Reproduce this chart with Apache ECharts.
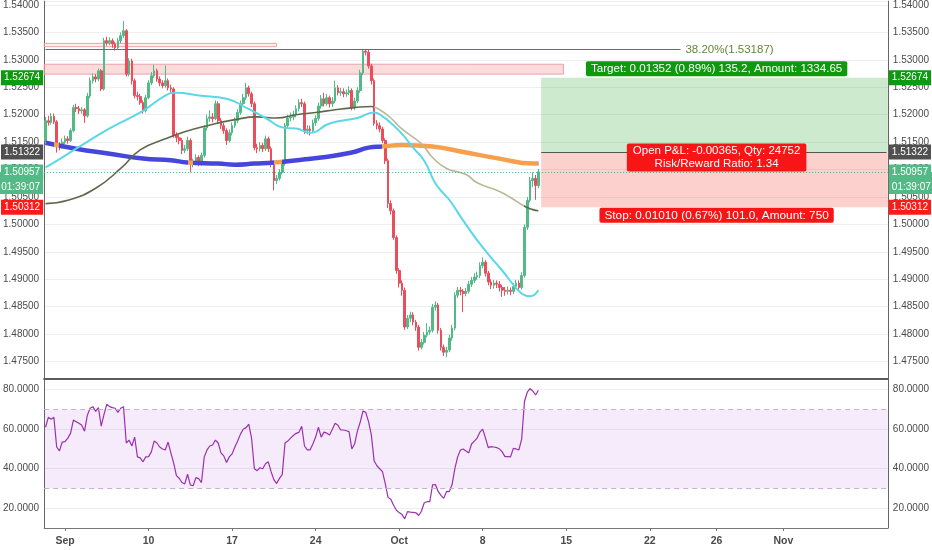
<!DOCTYPE html>
<html><head><meta charset="utf-8">
<script src="https://cdn.jsdelivr.net/npm/echarts@6/dist/echarts.min.js"></script>
<style>html,body{margin:0;padding:0;background:#fff}#c{width:932px;height:550px}</style>
</head><body><div id="c"></div>
<script>
// ---------- DATA (4H candles, one per slot) ----------
const firstOpen = 1.5153;
const closes = [
1.5189,1.5186,1.5197,1.5187,1.5144,1.5141,1.5150,1.5156,1.5153,1.5171,
1.5213,1.5211,1.5207,1.5209,1.5198,1.5234,1.5262,1.5269,1.5265,1.5280,
1.5247,1.5335,1.5331,1.5335,1.5329,1.5322,1.5335,1.5344,1.5353,1.5274,
1.5298,1.5262,1.5235,1.5233,1.5222,1.5207,1.5231,1.5258,1.5271,1.5280,
1.5265,1.5258,1.5253,1.5262,1.5249,1.5247,1.5162,1.5158,1.5153,1.5135,
1.5138,1.5153,1.5111,1.5113,1.5122,1.5111,1.5126,1.5176,1.5193,1.5196,
1.5193,1.5220,1.5189,1.5180,1.5171,1.5153,1.5167,1.5180,1.5189,1.5204,
1.5220,1.5231,1.5249,1.5238,1.5220,1.5140,1.5138,1.5144,1.5138,1.5156,
1.5138,1.5111,1.5080,1.5084,1.5095,1.5111,1.5180,1.5194,1.5196,1.5200,
1.5211,1.5222,1.5220,1.5171,1.5174,1.5171,1.5185,1.5193,1.5216,1.5229,
1.5220,1.5231,1.5220,1.5225,1.5249,1.5240,1.5242,1.5238,1.5240,1.5244,
1.5213,1.5225,1.5244,1.5276,1.5316,1.5314,1.5289,1.5262,1.5184,1.5180,
1.5174,1.5153,1.5116,1.5038,1.5025,1.4976,1.4916,1.4893,1.4880,1.4813,
1.4829,1.4835,1.4822,1.4813,1.4776,1.4785,1.4798,1.4804,1.4807,1.4849,
1.4853,1.4807,1.4776,1.4767,1.4771,1.4793,1.4811,1.4871,1.4880,1.4878,
1.4874,1.4878,1.4891,1.4898,1.4904,1.4907,1.4925,1.4931,1.4911,1.4895,
1.4889,1.4893,1.4891,1.4885,1.4880,1.4878,1.4880,1.4878,1.4887,1.4893,
1.4885,1.4907,1.4995,1.5044,1.5080,1.5084,1.5071,1.50957];
const highs = [
1.5196,1.5198,1.5203,1.5202,1.5190,1.5150,1.5157,1.5162,1.5161,1.5175,
1.5218,1.5220,1.5216,1.5214,1.5212,1.5240,1.5268,1.5275,1.5274,1.5284,
1.5283,1.5340,1.5342,1.5341,1.5339,1.5333,1.5340,1.5350,1.5371,1.5356,
1.5303,1.5302,1.5266,1.5242,1.5238,1.5226,1.5236,1.5263,1.5278,1.5291,
1.5284,1.5270,1.5263,1.5290,1.5266,1.5255,1.5250,1.5168,1.5164,1.5157,
1.5145,1.5160,1.5157,1.5120,1.5128,1.5126,1.5131,1.5181,1.5200,1.5208,
1.5203,1.5226,1.5224,1.5194,1.5185,1.5175,1.5173,1.5186,1.5195,1.5210,
1.5226,1.5238,1.5258,1.5253,1.5242,1.5224,1.5147,1.5150,1.5149,1.5162,
1.5160,1.5142,1.5115,1.5090,1.5101,1.5117,1.5185,1.5200,1.5204,1.5207,
1.5217,1.5228,1.5229,1.5224,1.5181,1.5180,1.5191,1.5199,1.5222,1.5236,
1.5240,1.5238,1.5235,1.5232,1.5262,1.5254,1.5249,1.5248,1.5246,1.5252,
1.5248,1.5231,1.5250,1.5282,1.5320,1.5320,1.5318,1.5293,1.5266,1.5190,
1.5186,1.5178,1.5157,1.5120,1.5044,1.5029,1.4980,1.4920,1.4898,1.4885,
1.4835,1.4841,1.4840,1.4826,1.4817,1.4791,1.4804,1.4820,1.4814,1.4855,
1.4860,1.4857,1.4811,1.4781,1.4777,1.4799,1.4817,1.4876,1.4886,1.4886,
1.4882,1.4884,1.4897,1.4904,1.4911,1.4914,1.4931,1.4940,1.4935,1.4915,
1.4900,1.4899,1.4898,1.4897,1.4890,1.4886,1.4887,1.4885,1.4893,1.4899,
1.4898,1.4913,1.5000,1.5050,1.5087,1.5095,1.5090,1.5101];
const lows = [
1.5150,1.5180,1.5182,1.5183,1.5131,1.5135,1.5138,1.5146,1.5147,1.5150,
1.5168,1.5205,1.5201,1.5202,1.5185,1.5195,1.5230,1.5257,1.5259,1.5261,
1.5243,1.5244,1.5326,1.5327,1.5322,1.5317,1.5318,1.5330,1.5340,1.5270,
1.5270,1.5255,1.5230,1.5226,1.5218,1.5202,1.5204,1.5228,1.5254,1.5267,
1.5260,1.5252,1.5248,1.5249,1.5244,1.5240,1.5158,1.5150,1.5146,1.5128,
1.5130,1.5134,1.5095,1.5104,1.5108,1.5106,1.5107,1.5122,1.5171,1.5187,
1.5186,1.5190,1.5184,1.5174,1.5165,1.5145,1.5149,1.5162,1.5176,1.5185,
1.5200,1.5216,1.5227,1.5233,1.5214,1.5135,1.5130,1.5133,1.5132,1.5134,
1.5132,1.5104,1.5062,1.5074,1.5080,1.5091,1.5107,1.5175,1.5188,1.5190,
1.5195,1.5206,1.5214,1.5165,1.5164,1.5162,1.5167,1.5180,1.5189,1.5211,
1.5215,1.5216,1.5213,1.5214,1.5221,1.5235,1.5234,1.5232,1.5233,1.5236,
1.5208,1.5209,1.5221,1.5240,1.5272,1.5308,1.5284,1.5255,1.5180,1.5173,
1.5168,1.5148,1.5110,1.5030,1.5018,1.4972,1.4910,1.4885,1.4870,1.4808,
1.4809,1.4822,1.4816,1.4806,1.4770,1.4772,1.4781,1.4794,1.4799,1.4803,
1.4843,1.4801,1.4770,1.4760,1.4758,1.4767,1.4788,1.4807,1.4866,1.4871,
1.4840,1.4869,1.4874,1.4886,1.4893,1.4899,1.4902,1.4920,1.4905,1.4889,
1.4882,1.4883,1.4884,1.4878,1.4868,1.4870,1.4872,1.4871,1.4873,1.4882,
1.4880,1.4881,1.4903,1.4990,1.5040,1.5068,1.5045,1.5066];
const rsiValues = [
61,66,65,66,51,49,53.5,53.7,55.5,58,
64.6,63.8,63,62,59,67,70.6,71.4,69,70.9,
61.5,67.5,72.6,71.4,70.9,70.6,68.5,70.6,71.4,53,
54.5,51.5,56,46,45.5,43.5,46,46.1,48.5,54,
53,51,50,49.5,53.5,48,43,36.5,35.2,33,
32.3,37.2,31.8,31.4,35.5,35,33,46,49.5,51.5,
52,54.5,53,48,46.5,43.2,46,47.5,51,54,
57.5,60,60.8,62.5,55.4,40,39,40.5,40,42.5,
43.5,38.5,34.5,32.5,35.1,37,53,54,55.5,56.8,
57.9,58.4,61.5,51.5,49.5,49.5,52.5,56,61,56,
58.5,58,57.1,60,63,62,59.6,59.6,59.2,58.8,
50,52.5,59,63.5,69.2,68.5,63.8,57.1,44,41.5,
40,38.5,32.5,25.5,24.5,21.5,19,17.8,16.8,14.6,
18.3,18,17.9,17.7,16.3,18.5,22.8,23.3,23.3,31.8,
32,28.5,26.5,25,28.5,28.4,32,40,46,49.5,
50,49,48,52.5,54,55.5,58.5,60,55.5,50.7,
51.2,51,50.7,50,48.5,46.1,46.1,46,50.3,50,
49.5,55,74,78.7,80.5,79.3,77.3,79.7];
// moving averages as [slot, value] readings
const ma50 = [[0,1.5104],[4,1.5116],[11,1.5138],[23,1.5175],[35,1.5207],[43,1.5235],[47,1.5240],[55,1.5235],[65,1.5229],[72,1.5213],[79,1.5194],[86,1.5176],[90,1.5175],[95,1.5167],[102,1.5184],[112,1.5194],[118,1.5204],[121,1.5197],[124,1.5185],[128,1.5165],[132,1.5140],[136,1.5116],[140,1.5075],[143,1.5056],[145,1.5045],[150,1.5007],[157,1.4958],[164,1.4916],[169,1.4884],[172,1.4871],[174,1.4869],[177,1.4880]];
const ma100 = [[0,1.5038],[8,1.5044],[18,1.5066],[27,1.5102],[34,1.5136],[43,1.5156],[50,1.5169],[58,1.5180],[68,1.5191],[76,1.5196],[83,1.5194],[90,1.5200],[97,1.5204],[104,1.5209],[111,1.5213],[117,1.5215],[120,1.5209],[124,1.5194],[128,1.5174],[135,1.5147],[139,1.5122],[144,1.5102],[151,1.5091],[155,1.5076],[163,1.5060],[167,1.5049],[172,1.5033],[175,1.5027],[177,1.5025]];
const ma200 = [[0,1.5149],[11,1.5138],[23,1.5129],[35,1.5120],[45,1.5117],[51,1.5113],[62,1.5111],[68,1.5109],[75,1.5111],[82,1.5113],[92,1.5118],[99,1.5122],[110,1.5131],[116,1.5140],[121,1.5142],[128,1.5145],[139,1.5142],[151,1.5131],[163,1.5120],[175,1.5111],[177,1.5111]];
const ma200BelowRanges = [[3,5],[51,53],[82,85],[121,177]];
const ma100BelowRanges = [[118,172]];
// x axis
const slotCount = 303;
const xTickSlots = [7,37,67,97,127,157,187,217,241,265];
const xTickLabels = ['Sep','10','17','24','Oct','8','15','22','26','Nov'];
// price scale
const priceMin = 1.47, priceMax = 1.5407, priceStep = 0.005;
const rsiMin = 10, rsiMax = 85.4, rsiStep = 10;
const rsiGridLevels = [20,40,60,80];
const rsiUpper = 70, rsiLower = 30;
// drawings
const zoneThin = [1.5330, 1.5324], zoneThinEnd = 83;
const zoneWide = [1.5292, 1.5274], zoneWideEnd = 186;
const fibLevel = 1.53187, fibEnd = 228, fibText = '38.20%(1.53187)';
const entryPrice = 1.51322, targetPrice = 1.52674, stopPrice = 1.50312, lastPrice = 1.50957;
const positionStart = 178, positionLabelSlot = 241;
const targetText = 'Target: 0.01352 (0.89%) 135.2, Amount: 1334.65';
const pnlText = 'Open P&L: -0.00365, Qty: 24752\nRisk/Reward Ratio: 1.34';
const stopText = 'Stop: 0.01010 (0.67%) 101.0, Amount: 750';
const countdownText = '01:39:07';

// ---------- BUILD ----------
const FONT = 'Liberation Sans, Arial, sans-serif';
const TXT = '#4b4b4b';
const GRIDC = '#eceef2';
const UP = '#53b987', DOWN = '#eb4d5c';
const HIDDEN = 'rgba(0,0,0,0)';
const categories = Array.from({length: slotCount}, () => '');
xTickSlots.forEach((s, k) => { categories[s] = xTickLabels[k]; });
const candles = closes.map((c, i) => [i === 0 ? firstOpen : closes[i - 1], c, lows[i], highs[i]]);

function rangePieces(ranges, inColor, outColor) {
  const pieces = []; let cur = -1;
  ranges.forEach(([a, b]) => {
    if (a > cur) pieces.push({gt: cur, lt: a, color: outColor});
    pieces.push({gte: a, lte: b, color: inColor});
    cur = b;
  });
  pieces.push({gt: cur, lte: slotCount, color: outColor});
  return pieces;
}
function priceLabel(v) {
  if (v < priceMin + priceStep / 2 || v > 1.54001) return '';
  return v.toFixed(5);
}
function rsiLabel(v) {
  const r = Math.round(v);
  return (Math.abs(v - r) < 1e-6 && rsiGridLevels.indexOf(r) >= 0) ? v.toFixed(4) : '';
}
function badge(price, text, bg, side, extra) {
  return {
    yAxis: price,
    lineStyle: {color: HIDDEN, width: 1, type: 'solid'},
    label: Object.assign({
      show: true, position: side === 'left' ? 'start' : 'end', formatter: text,
      backgroundColor: bg, color: '#fff', fontSize: 10, fontFamily: FONT,
      padding: [3, 3, 2, 3], distance: 1
    }, extra || {})
  };
}
const mainSplit = ['transparent'].concat(Array(20).fill(GRIDC));
const rsiSplit = ['transparent', GRIDC, 'transparent', GRIDC, 'transparent', GRIDC, 'transparent', GRIDC, 'transparent', 'transparent'];

const yMain = (pos) => ({
  type: 'value', gridIndex: 0, position: pos, min: priceMin, max: priceMax, interval: priceStep,
  axisLine: {show: true, lineStyle: {color: '#666'}}, axisTick: {show: false},
  axisLabel: {formatter: priceLabel, color: TXT, fontSize: 10, margin: 5, fontFamily: FONT},
  splitLine: {show: pos === 'left', lineStyle: {color: mainSplit}}
});
const yRsi = (pos) => ({
  type: 'value', gridIndex: 1, position: pos, min: rsiMin, max: rsiMax, interval: rsiStep,
  axisLine: {show: true, lineStyle: {color: '#666'}}, axisTick: {show: false},
  axisLabel: {formatter: rsiLabel, color: TXT, fontSize: 10, margin: 5, fontFamily: FONT},
  splitLine: {show: pos === 'left', lineStyle: {color: rsiSplit}}
});

const option = {
  animation: false,
  backgroundColor: '#ffffff',
  textStyle: {fontFamily: FONT},
  grid: [
    {left: 42, right: 42, top: 0, height: 389},
    {left: 42, right: 42, top: 379, height: 149}
  ],
  xAxis: [
    {type: 'category', gridIndex: 0, data: categories, boundaryGap: true, show: false},
    {type: 'category', gridIndex: 1, data: categories, boundaryGap: true, position: 'bottom',
      axisLine: {lineStyle: {color: '#777'}},
      axisTick: {show: true, alignWithLabel: true, interval: (i, v) => v !== '', length: 3, lineStyle: {color: '#777'}},
      axisLabel: {interval: (i, v) => v !== '', color: TXT, fontWeight: 'bold', fontSize: 10.5, margin: 8, fontFamily: FONT},
      splitLine: {show: false}},
    {type: 'category', gridIndex: 1, data: categories, boundaryGap: true, position: 'top',
      axisLine: {lineStyle: {color: '#5c5c5c', width: 2}}, axisTick: {show: false}, axisLabel: {show: false}}
  ],
  yAxis: [yMain('left'), yMain('right'), yRsi('left'), yRsi('right')],
  visualMap: [
    {show: false, type: 'piecewise', seriesIndex: 1, dimension: 0, pieces: rangePieces(ma200BelowRanges, '#f6a04d', '#4646dc')},
    {show: false, type: 'piecewise', seriesIndex: 2, dimension: 0, pieces: rangePieces(ma100BelowRanges, '#b7b995', '#5d6848')}
  ],
  series: [
    {
      type: 'candlestick', name: 'price', xAxisIndex: 0, yAxisIndex: 0, data: candles, barWidth: '78%', clip: false,
      itemStyle: {color: UP, color0: DOWN, borderColor: UP, borderColor0: DOWN, borderWidth: 1},
      markArea: {
        silent: true,
        data: [
          [{yAxis: zoneThin[0], itemStyle: {color: 'rgba(242,120,120,0.12)', borderColor: '#eea2a2', borderWidth: 1}}, {xAxis: zoneThinEnd, yAxis: zoneThin[1]}],
          [{yAxis: zoneWide[0], itemStyle: {color: 'rgba(242,90,100,0.22)', borderColor: '#eea2a8', borderWidth: 1}}, {xAxis: zoneWideEnd, yAxis: zoneWide[1]}],
          [{xAxis: positionStart, yAxis: targetPrice, itemStyle: {color: 'rgba(76,175,80,0.28)'}}, {yAxis: entryPrice}],
          [{xAxis: positionStart, yAxis: entryPrice, itemStyle: {color: 'rgba(244,67,54,0.25)'}}, {yAxis: stopPrice}]
        ]
      },
      markLine: {
        silent: true, symbol: ['none', 'none'], precision: 5,
        data: [
          badge(lastPrice, countdownText, UP, 'left', {verticalAlign: 'top', padding: [10, 3, 2, 3]}),
          badge(lastPrice, countdownText, UP, 'right', {verticalAlign: 'top', padding: [10, 3, 2, 3]}),
          badge(targetPrice, targetPrice.toFixed(5), '#0e990e', 'left'),
          badge(targetPrice, targetPrice.toFixed(5), '#0e990e', 'right'),
          badge(entryPrice, entryPrice.toFixed(5), '#505050', 'left'),
          badge(entryPrice, entryPrice.toFixed(5), '#505050', 'right'),
          badge(lastPrice, lastPrice.toFixed(5), UP, 'left'),
          badge(lastPrice, lastPrice.toFixed(5), UP, 'right'),
          badge(stopPrice, stopPrice.toFixed(5), '#ff1a1a', 'left'),
          badge(stopPrice, stopPrice.toFixed(5), '#ff1a1a', 'right')
        ]
      },
      markPoint: {
        silent: true, symbol: 'circle', symbolSize: 1, itemStyle: {color: 'rgba(0,0,0,0)'},
        data: [
          {coord: [positionLabelSlot, targetPrice], label: {show: true, position: 'top', distance: 1, formatter: targetText,
            backgroundColor: '#0e990e', color: '#fff', fontSize: 11.6, padding: [2, 5, 1, 5], borderRadius: 2, fontFamily: FONT}},
          {coord: [positionLabelSlot, entryPrice], label: {show: true, position: 'inside', offset: [0, 5.5], formatter: pnlText,
            backgroundColor: '#f71515', color: '#fff', fontSize: 11.5, lineHeight: 13, padding: [1, 6, 1, 6], borderRadius: 2, align: 'center', fontFamily: FONT}},
          {coord: [positionLabelSlot, stopPrice], label: {show: true, position: 'bottom', distance: 0, formatter: stopText,
            backgroundColor: '#f71515', color: '#fff', fontSize: 11.8, padding: [2, 5, 1, 5], borderRadius: 2, fontFamily: FONT}}
        ]
      }
    },
    {type: 'line', name: 'MA200', xAxisIndex: 0, yAxisIndex: 0, data: ma200, smooth: true, symbol: 'none', lineStyle: {width: 4.5},
      markLine: {silent: true, symbol: ['none', 'none'], label: {show: false}, precision: 5,
        lineStyle: {color: '#45b08c', width: 1, type: [1, 2]},
        data: [{yAxis: lastPrice}]}},
    {type: 'line', name: 'MA100', xAxisIndex: 0, yAxisIndex: 0, data: ma100, smooth: true, symbol: 'none', lineStyle: {width: 1.6},
      markLine: {silent: true, symbol: ['none', 'none'], label: {show: false}, precision: 5,
        lineStyle: {color: '#555555', width: 1, type: 'solid'},
        data: [[{xAxis: positionStart, yAxis: entryPrice}, {xAxis: slotCount - 1, yAxis: entryPrice}]]}},
    {type: 'line', name: 'MA50', xAxisIndex: 0, yAxisIndex: 0, data: ma50, smooth: true, symbol: 'none',
      lineStyle: {width: 2, color: '#5ad8e8'}, itemStyle: {color: '#5ad8e8'},
      markLine: {silent: true, symbol: ['none', 'none'], precision: 5,
        lineStyle: {color: '#3f8a33', width: 1, type: 'solid'},
        label: {show: true, position: 'end', formatter: fibText, color: '#62893a', fontSize: 11.5, distance: 5, fontFamily: FONT},
        data: [[{xAxis: 0, yAxis: fibLevel}, {xAxis: fibEnd, yAxis: fibLevel}]]}},
    {
      type: 'line', name: 'RSI', xAxisIndex: 1, yAxisIndex: 2, data: rsiValues, symbol: 'none',
      lineStyle: {width: 1.2, color: '#9b30b0'}, itemStyle: {color: '#9b30b0'},
      markArea: {silent: true, data: [[{yAxis: rsiUpper, itemStyle: {color: 'rgba(170,60,220,0.1)'}}, {yAxis: rsiLower}]]},
      markLine: {
        silent: true, symbol: ['none', 'none'], label: {show: false},
        lineStyle: {color: '#c6b3cc', type: [5, 4], width: 1},
        data: [{yAxis: rsiUpper}, {yAxis: rsiLower}]
      }
    }
  ]
};
const chart = echarts.init(document.getElementById('c'));
chart.setOption(option);
</script>
</body></html>
